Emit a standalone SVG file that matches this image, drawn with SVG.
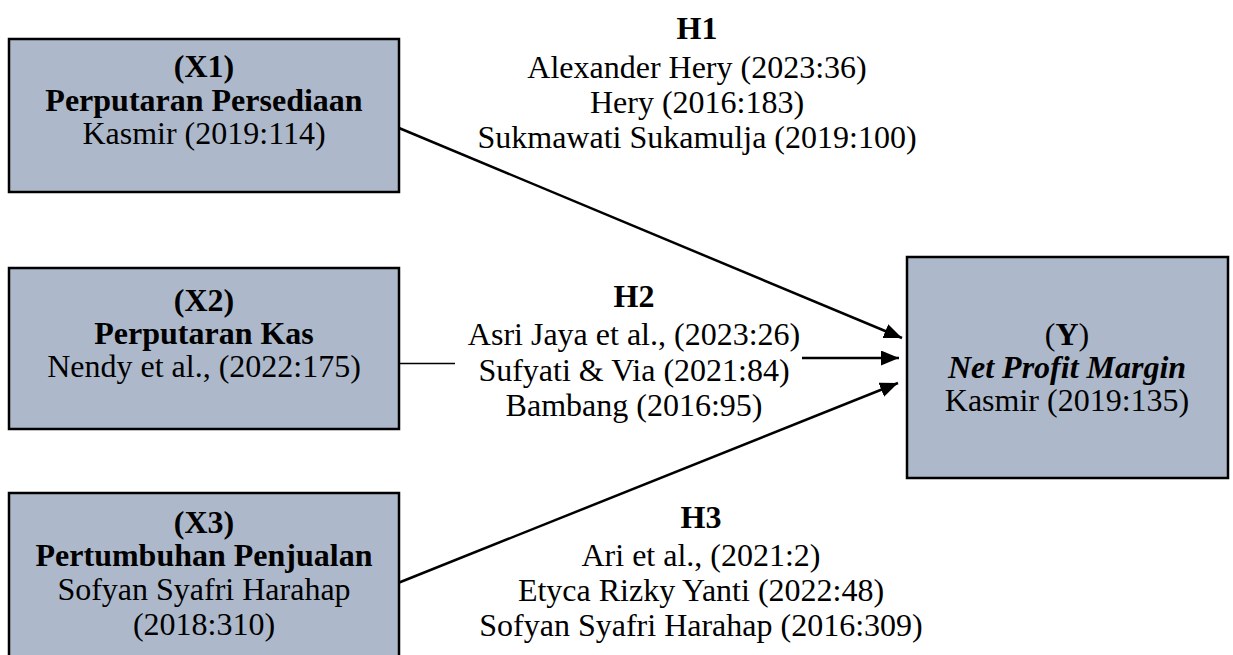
<svg xmlns="http://www.w3.org/2000/svg" width="1233" height="655" viewBox="0 0 1233 655">
<style>
.box{fill:#ADB9CA;stroke:#000;stroke-width:2.5}
text{font-family:"Liberation Serif","Times New Roman",serif;font-size:32px;fill:#000;text-anchor:middle}
.b{font-weight:bold}
.bi{font-weight:bold;font-style:italic}
.conn{stroke:#000;stroke-width:2.5;fill:none}
</style>
<defs>
<marker id="ah" markerUnits="userSpaceOnUse" markerWidth="20" markerHeight="16" refX="18" refY="7.5" orient="auto">
<path d="M0,0 L18,7.5 L0,15 z" fill="#000"/>
</marker>
</defs>
<rect width="1233" height="655" fill="#fff"/>
<g id="connectors">
<line class="conn" x1="399" y1="128" x2="902" y2="338" marker-end="url(#ah)"/>
<line x1="400" y1="363.5" x2="455" y2="363.5" stroke="#000" stroke-width="1.3"/>
<line class="conn" x1="802" y1="358" x2="899" y2="358" marker-end="url(#ah)"/>
<line class="conn" x1="398" y1="583" x2="898" y2="383" marker-end="url(#ah)"/>
</g>
<g id="x1">
<rect class="box" x="9" y="39" width="390" height="153"/>
<text x="204" y="77" class="b">(X1)</text>
<text x="204" y="111" class="b">Perputaran Persediaan</text>
<text x="204" y="144">Kasmir (2019:114)</text>
</g>
<g id="x2">
<rect class="box" x="9" y="268" width="390" height="161"/>
<text x="204" y="311" class="b">(X2)</text>
<text x="204" y="344" class="b">Perputaran Kas</text>
<text x="204" y="377">Nendy et al., (2022:175)</text>
</g>
<g id="x3">
<rect class="box" x="9" y="493" width="390" height="175"/>
<text x="204" y="533" class="b">(X3)</text>
<text x="204" y="566" class="b">Pertumbuhan Penjualan</text>
<text x="204" y="600">Sofyan Syafri Harahap</text>
<text x="204" y="635">(2018:310)</text>
</g>
<g id="y">
<rect class="box" x="907" y="257" width="321" height="221"/>
<text x="1067" y="345">(<tspan class="b">Y</tspan>)</text>
<text x="1067" y="378" class="bi">Net Profit Margin</text>
<text x="1067" y="411">Kasmir (2019:135)</text>
</g>
<g id="h1">
<text x="697" y="39" class="b">H1</text>
<text x="697" y="78">Alexander Hery (2023:36)</text>
<text x="697" y="113">Hery (2016:183)</text>
<text x="697" y="148">Sukmawati Sukamulja (2019:100)</text>
</g>
<g id="h2">
<text x="634" y="307" class="b">H2</text>
<text x="634" y="345">Asri Jaya et al., (2023:26)</text>
<text x="634" y="381">Sufyati &amp; Via (2021:84)</text>
<text x="634" y="416">Bambang (2016:95)</text>
</g>
<g id="h3">
<text x="701" y="528" class="b">H3</text>
<text x="701" y="566">Ari et al., (2021:2)</text>
<text x="701" y="601">Etyca Rizky Yanti (2022:48)</text>
<text x="701" y="636">Sofyan Syafri Harahap (2016:309)</text>
</g>
</svg>
